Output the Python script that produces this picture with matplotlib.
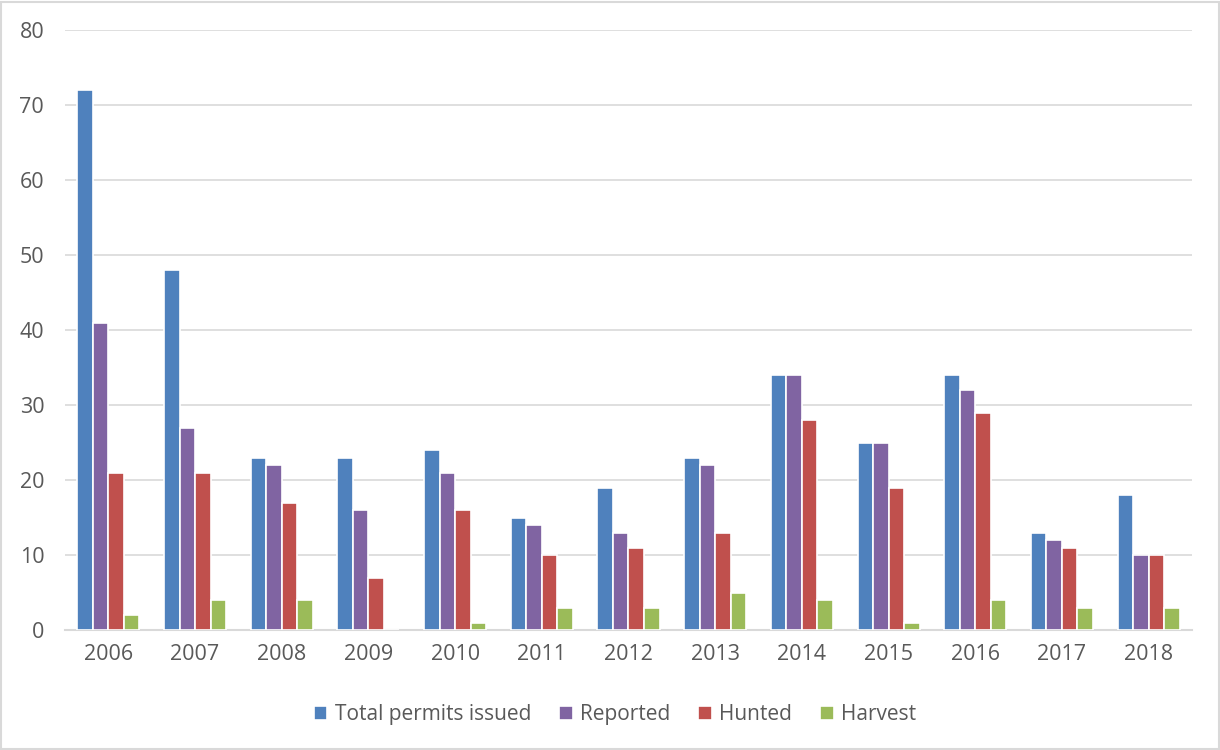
import numpy as np
import matplotlib.pyplot as plt
from matplotlib.patches import Rectangle

years = ['2006', '2007', '2008', '2009', '2010', '2011', '2012',
         '2013', '2014', '2015', '2016', '2017', '2018']
total_permits = [72, 48, 23, 23, 24, 15, 19, 23, 34, 25, 34, 13, 18]
reported = [41, 27, 22, 16, 21, 14, 13, 22, 34, 25, 32, 12, 10]
hunted = [21, 21, 17, 7, 16, 10, 11, 13, 28, 19, 29, 11, 10]
harvest = [2, 4, 4, 0, 1, 3, 3, 5, 4, 1, 4, 3, 3]

series = [('Total permits issued', total_permits, '#4F81BD'),
          ('Reported', reported, '#8064A2'),
          ('Hunted', hunted, '#C0504D'),
          ('Harvest', harvest, '#9BBB59')]

plt.rcParams['font.family'] = ['Open Sans', 'DejaVu Sans']

fig = plt.figure(figsize=(12.2, 7.5), dpi=100)
ax = fig.add_axes([0.0533, 0.16, 0.9237, 0.80])

x = np.arange(len(years))
slot = 0.179
for i, (name, vals, color) in enumerate(series):
    ax.bar(x + (i - 1.5) * slot, vals, width=slot, color=color,
           edgecolor='white', linewidth=1.2, label=name, zorder=3)

ax.set_xlim(-0.5, len(years) - 0.5)
ax.set_ylim(0, 80)
ax.set_yticks(range(0, 81, 10))
ax.set_xticks(x)
ax.set_xticklabels(years)
ax.grid(axis='y', color='#d9d9d9', linewidth=1.2, zorder=0)
for s in ['top', 'right', 'left']:
    ax.spines[s].set_visible(False)
ax.spines['bottom'].set_color('#d9d9d9')
ax.spines['bottom'].set_linewidth(1.5)
ax.tick_params(length=0, labelsize=15.5, colors='#595959', pad=10)
ax.tick_params(axis='y', pad=15)

leg = fig.legend(loc='center', bbox_to_anchor=(0.504, 0.047), ncol=4,
                 frameon=False, fontsize=15, handlelength=0.65,
                 handleheight=0.65, handletextpad=0.35, columnspacing=1.35)
for t in leg.get_texts():
    t.set_color('#595959')

fig.patches.append(Rectangle((0.001, 0.001), 0.998, 0.997, transform=fig.transFigure,
                             fill=False, edgecolor='#d9d9d9', linewidth=1.5))

fig.savefig('out.png', dpi=100)
